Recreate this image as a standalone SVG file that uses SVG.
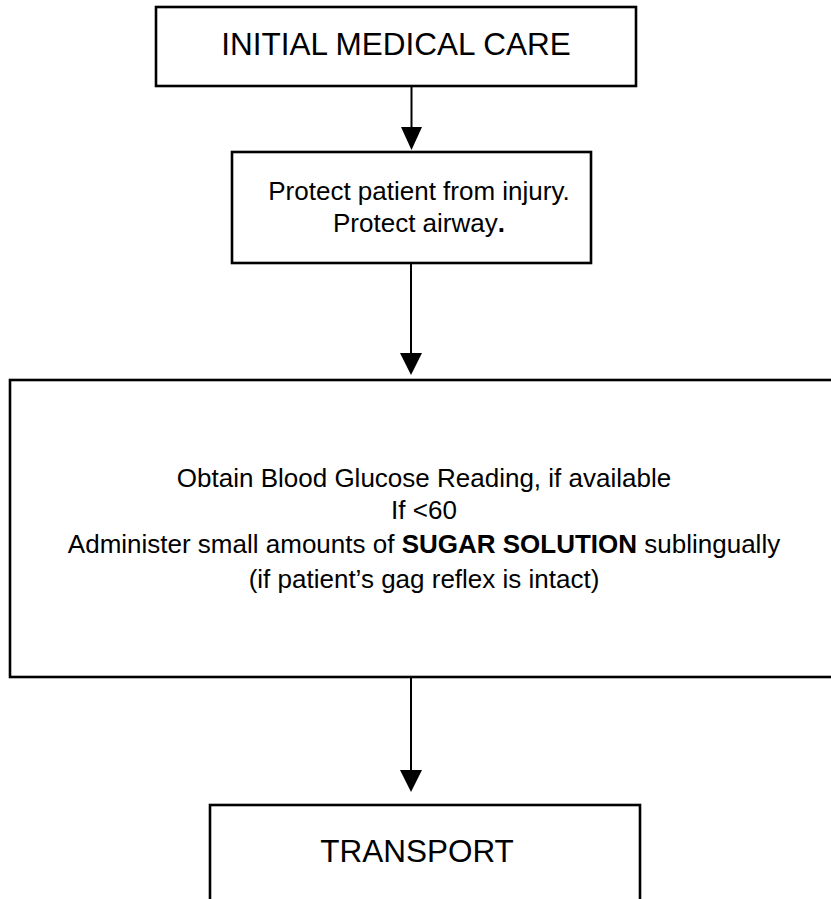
<svg xmlns="http://www.w3.org/2000/svg" width="831" height="899" viewBox="0 0 831 899">
<style>
.box{fill:#fff;stroke:#000;stroke-width:2.6}
.t{font-family:"Liberation Sans",Arial,sans-serif;fill:#000;text-anchor:middle}
.big{font-size:31.5px}
.mid{font-size:26px}
.conn line{stroke:#000;stroke-width:2}
.conn polygon{fill:#000}
</style>
<rect width="831" height="899" fill="#fff"/>
<g id="initial-care">
<rect class="box" x="156" y="7" width="480" height="79"/>
<text class="t big" x="396" y="55">INITIAL MEDICAL CARE</text>
</g>
<g id="protect">
<rect class="box" x="232" y="152" width="359" height="111"/>
<text class="t mid" x="419" y="200">Protect patient from injury.</text>
<text class="t mid" x="419" y="232">Protect airway<tspan font-weight="bold">.</tspan></text>
</g>
<g id="glucose">
<rect class="box" x="10" y="380" width="840" height="297"/>
<text class="t mid" x="424" y="487">Obtain Blood Glucose Reading, if available</text>
<text class="t mid" x="424" y="519">If &lt;60</text>
<text class="t mid" x="424" y="553">Administer small amounts of <tspan font-weight="bold">SUGAR SOLUTION</tspan> sublingually</text>
<text class="t mid" x="424" y="588">(if patient’s gag reflex is intact)</text>
</g>
<g id="transport">
<rect class="box" x="210" y="805" width="430" height="120"/>
<text class="t big" x="417" y="862">TRANSPORT</text>
</g>
<g id="connectors" class="conn">
<line x1="411.5" y1="87" x2="411.5" y2="129"/>
<polygon points="401,127 422,127 411.5,150"/>
<line x1="411" y1="264" x2="411" y2="355"/>
<polygon points="400,353 422,353 411,375"/>
<line x1="411" y1="678" x2="411" y2="772"/>
<polygon points="400,770 422,770 411,792"/>
</g>
</svg>
